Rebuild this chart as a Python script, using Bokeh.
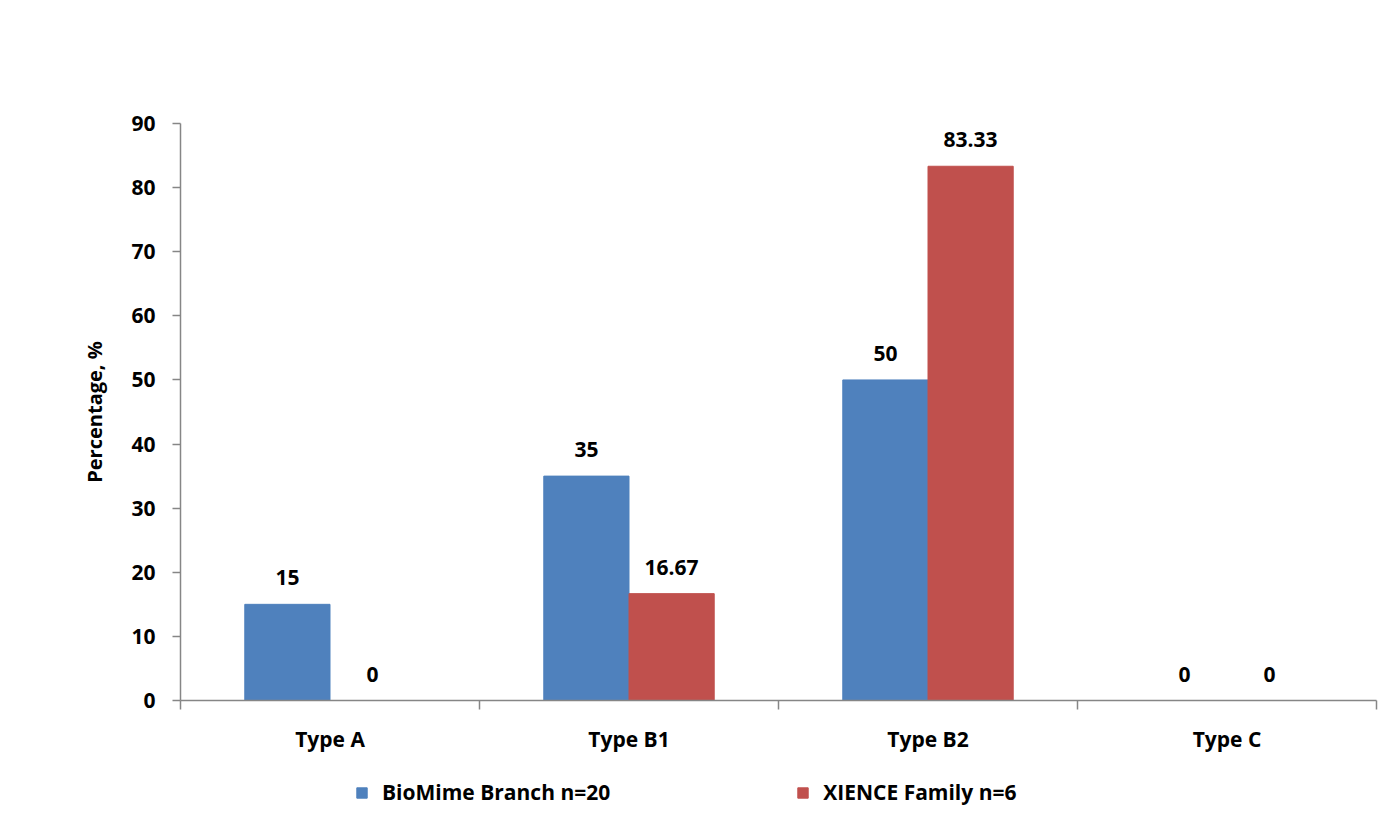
from bokeh.plotting import figure
from bokeh.layouts import column
from bokeh.models import (ColumnDataSource, Range1d, FixedTicker, Legend, LegendItem, LabelSet)
from bokeh.embed import file_html
from bokeh.resources import INLINE
from bokeh.core.properties import value

categories = ["Type A", "Type B1", "Type B2", "Type C"]
biomime = [15, 35, 50, 0]
xience = [0, 16.67, 83.33, 0]
biomime_labels = ["15", "35", "50", "0"]
xience_labels = ["0", "16.67", "83.33", "0"]
series_names = ["BioMime Branch n=20", "XIENCE Family n=6"]
y_ticks = [0, 10, 20, 30, 40, 50, 60, 70, 80, 90]

BLUE = "#4F81BD"
RED = "#C0504D"
AX = "#868686"
FONT = "Open Sans"

bw = 0.285
centers = [i + 0.5 for i in range(len(categories))]

src_b = ColumnDataSource(dict(x=[c - bw / 2 for c in centers], top=biomime, lab=biomime_labels))
src_r = ColumnDataSource(dict(x=[c + bw / 2 for c in centers], top=xience, lab=xience_labels))

p = figure(width=1385, height=765, output_backend="svg", toolbar_location=None,
           x_range=Range1d(0, len(categories)), y_range=Range1d(0, 90),
           min_border_left=180, min_border_right=9, min_border_top=123, min_border_bottom=65)
p.outline_line_color = None
p.xgrid.grid_line_color = None
p.ygrid.grid_line_color = None
p.background_fill_color = "white"
p.border_fill_color = "white"

rb = p.vbar(x="x", top="top", width=bw, bottom=0, source=src_b, fill_color=BLUE, line_color=BLUE)
rr = p.vbar(x="x", top="top", width=bw, bottom=0, source=src_r, fill_color=RED, line_color=RED)

for src in (src_b, src_r):
    ls = LabelSet(x="x", y="top", text="lab", source=src, y_offset=19, text_align="center",
                  text_baseline="bottom", text_font=value(FONT), text_font_style="bold",
                  text_font_size="21px", text_color="black")
    p.add_layout(ls)

# y axis
p.yaxis.ticker = FixedTicker(ticks=y_ticks)
p.yaxis.axis_line_color = AX
p.yaxis.axis_line_width = 1.5
p.yaxis.major_tick_line_color = AX
p.yaxis.major_tick_line_width = 1.5
p.yaxis.major_tick_out = 8
p.yaxis.major_tick_in = 0
p.yaxis.minor_tick_line_color = None
p.yaxis.major_label_text_font = FONT
p.yaxis.major_label_text_font_style = "bold"
p.yaxis.major_label_text_font_size = "21px"
p.yaxis.major_label_text_color = "black"
p.yaxis.major_label_standoff = 17
p.yaxis.axis_label = "Percentage, %"
p.yaxis.axis_label_text_font = FONT
p.yaxis.axis_label_text_font_style = "bold"
p.yaxis.axis_label_text_font_size = "20px"
p.yaxis.axis_label_text_color = "black"
p.yaxis.axis_label_standoff = 20

# x axis: labels at centres, ticks at boundaries
p.xaxis.ticker = FixedTicker(ticks=centers, minor_ticks=list(range(len(categories) + 1)))
p.xaxis.major_label_overrides = {c: n for c, n in zip(centers, categories)}
p.xaxis.axis_line_color = AX
p.xaxis.axis_line_width = 1.5
p.xaxis.major_tick_line_color = None
p.xaxis.minor_tick_line_color = AX
p.xaxis.minor_tick_line_width = 1.5
p.xaxis.minor_tick_out = 9
p.xaxis.minor_tick_in = 0
p.xaxis.major_label_text_font = FONT
p.xaxis.major_label_text_font_style = "bold"
p.xaxis.major_label_text_font_size = "21px"
p.xaxis.major_label_text_color = "black"
p.xaxis.major_label_standoff = 15

# legend strip below the chart (its renderers share the bar data but lie outside its view)
p2 = figure(width=1385, height=56, output_backend="svg", toolbar_location=None,
            x_range=Range1d(100, 101), y_range=Range1d(100, 101),
            min_border=0, outline_line_color=None)
p2.axis.visible = False
p2.grid.visible = False
lb = p2.vbar(x="x", top="top", width=bw, bottom=0, source=src_b, fill_color=BLUE, line_color=BLUE)
lr = p2.vbar(x="x", top="top", width=bw, bottom=0, source=src_r, fill_color=RED, line_color=RED)
legend = Legend(items=[LegendItem(label=series_names[0], renderers=[lb]),
                       LegendItem(label=series_names[1], renderers=[lr])],
                orientation="horizontal", location=(175, 15), spacing=186,
                glyph_width=13, glyph_height=13, label_standoff=14,
                label_text_font=FONT, label_text_font_style="bold", label_text_font_size="21px",
                label_text_color="black",
                padding=0, margin=0, border_line_color=None, background_fill_alpha=0)
p2.add_layout(legend, "center")

layout = column(p, p2, spacing=0)
open("out.html", "w").write(file_html(layout, INLINE))
